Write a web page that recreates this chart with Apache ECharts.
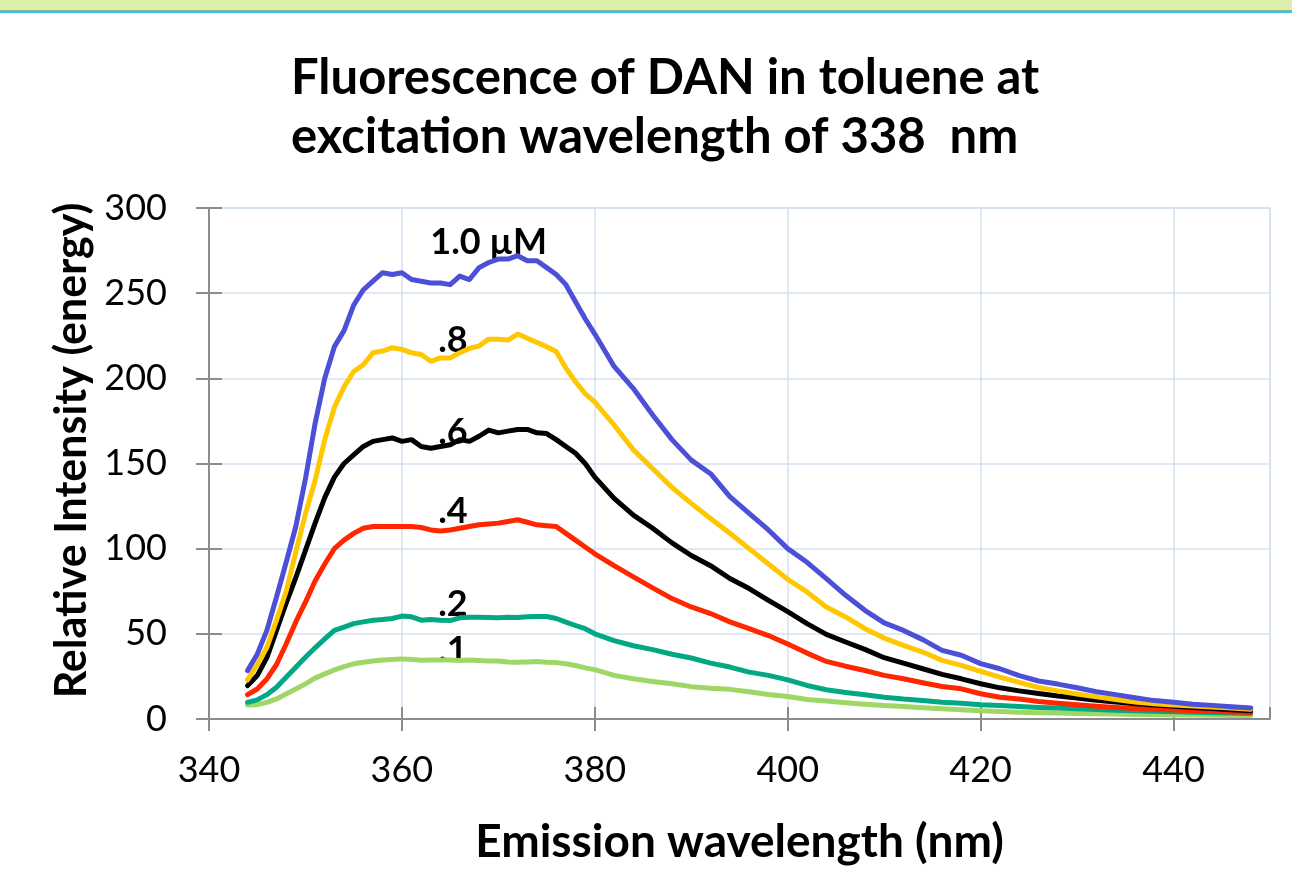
<!DOCTYPE html>
<html>
<head>
<meta charset="utf-8">
<script src="https://cdn.jsdelivr.net/npm/echarts@6/dist/echarts.min.js"></script>
<style>
html,body{margin:0;padding:0;background:#fff;}
#chart{width:1292px;height:873px;}
</style>
</head>
<body>
<div id="chart"></div>
<script>
const wavelengths = [344,345,346,347,348,349,350,351,352,353,354,355,356,357,358,359,360,361,362,363,364,365,366,367,368,369,370,371,372,373,374,375,376,377,378,379,380,
382,384,386,388,390,392,394,396,398,400,402,404,406,408,410,412,414,416,418,420,422,424,426,428,430,432,434,436,438,440,442,444,446,448];

const conc10 = [28.4,38,52,71.6,92,113,141,173.5,200,218.6,228,243,252,257,262,261,262,258,257,256,256,255,260,258,265,268,270,270,272,269,269,265,261,255,245,235,226,
207,194,178.5,164,152,144,130.5,120.7,111,100,92,82.4,72.6,63.8,56.4,52,46.6,40.3,37.4,32.5,29.5,25.5,22.3,20.5,18.3,16,14.3,12.5,10.8,9.8,8.7,8,7.2,6.5];

const conc08 = [23,32,42,58,75,98,120.5,140,164,183,195,204,208,215,216,218,217,215,214,210,212,212,215,217.6,219,223,223,222.5,226,223.5,221,218.6,215.7,206,198,191,186,
172.6,158,147,136,126.6,117.7,109,100,91,82,74.6,65.8,59.9,53,47.5,43.2,39.3,34.4,31.5,28,24.6,21.5,18.5,16.5,14.7,13,11.5,10,9,8.2,7.6,7,6.4,5.7];

const conc06 = [19.6,25.5,36,52,68,83,99,115,130,142,150,155,160,163,164,165,163,164,160,159,160,161,164,163,166,169.6,168,169,170,170,168,167.6,164,160,156,150,142,
129.5,119.7,112,103.4,96,90,82.5,76.6,69.7,63,56,49.7,45.2,40.9,36,32.8,29.5,26.2,23.6,20.7,18.3,16.5,15,13.5,12.3,11,10,9,8.2,7.5,6.8,6.1,5.5,4.8];

const conc04 = [14.3,17.6,23.5,32,44,57,68.6,81,91,100,105,109,112,113,113,113,113,113,112.4,111,110.4,111,112,113,114,114.5,115,116,117,115.5,114,113.5,113,109,105,101,97,
90,83.4,77,70.7,65.8,61.9,57,53,49,44,38.7,33.8,31,28.5,25.6,23.6,21.3,19.1,17.7,14.8,12.8,11.7,10.3,9.2,8.3,7.5,6.8,6.2,5.7,5.3,4.9,4.5,4.1,3.8];

const conc02 = [9.8,11.2,14.3,18.6,24.5,30.4,36.3,41.8,47,52,54,56,57,58,58.4,59,60.4,60,58,58.4,58,57.8,59.4,59.8,59.8,59.6,59.4,59.8,59.6,60,60.2,60.2,59,56.9,54.9,53,50,
46,43,40.7,38,35.8,32.8,30.5,27.5,25.6,23,19.7,17.2,15.6,14.2,12.8,11.7,10.9,9.9,9.3,8.3,7.9,7.3,6.8,6.4,6,5.6,5.2,4.9,4.6,4.3,4,3.7,3.5,3.2];

const conc01 = [8.2,8.4,9.8,11.8,14.7,17.6,20.6,24,26.5,28.8,30.8,32.4,33.3,34,34.7,35,35.3,35,34.5,34.7,34.7,34.7,34.3,34.7,34.3,34,34,33.5,33.3,33.5,33.7,33.3,33.1,32.4,31.4,30,29,
25.6,23.6,22,20.7,19,18,17.4,16,14.4,13.2,11.5,10.5,9.5,8.7,7.9,7.4,6.6,6,5.4,4.8,4.4,4,3.7,3.5,3.3,3.1,2.9,2.7,2.5,2.4,2.3,2.2,2.1,2];

const seriesNames = ['1.0 µM', '.8', '.6', '.4', '.2', '.1'];
const seriesColors = ['#4B50D6', '#FFC700', '#000000', '#FF2600', '#00A883', '#9ED766'];
const seriesValues = [conc10, conc08, conc06, conc04, conc02, conc01];
// annotation anchors in data units [wavelength nm, intensity]
const labelAnchors = [[369, 280], [365.3, 222], [365.3, 168.5], [365.3, 122], [365.3, 67], [365.3, 40]];

const xTicks = [340, 360, 380, 400, 420, 440];
const yTicks = [0, 50, 100, 150, 200, 250, 300];

const FONT = 'Lato, "Open Sans", sans-serif';
const chart = echarts.init(document.getElementById('chart'), null, {renderer: 'canvas'});

const axisGray = '#8c8c8c';
const gridBlue = '#d5e0f0';

const series = seriesValues.map((vals, i) => ({
  name: seriesNames[i],
  type: 'line',
  xAxisIndex: 0,
  yAxisIndex: 0,
  data: wavelengths.map((w, j) => [w, vals[j]]),
  showSymbol: false,
  symbol: 'none',
  smooth: false,
  lineStyle: {color: seriesColors[i], width: 5, join: 'round', cap: 'round'},
  itemStyle: {color: seriesColors[i]},
  z: 10 - i,
  markPoint: {
    symbol: 'circle',
    symbolSize: 1,
    itemStyle: {color: 'rgba(0,0,0,0)'},
    label: {
      show: true,
      position: 'inside',
      formatter: seriesNames[i],
      color: '#000',
      fontFamily: FONT,
      fontWeight: 'bold',
      fontSize: 36
    },
    data: [{coord: labelAnchors[i]}]
  }
}));

const option = {
  backgroundColor: '#ffffff',
  animation: false,
  title: {
    text: 'Fluorescence of DAN in toluene at\nexcitation wavelength of 338  nm',
    left: 286,
    top: 44,
    textAlign: 'left',
    textStyle: {fontFamily: FONT, fontWeight: 'bold', fontSize: 49, lineHeight: 59, color: '#000', align: 'center', width: 747}
  },
  graphic: [
    {type: 'rect', left: 0, top: 0, shape: {width: 1292, height: 10}, style: {fill: '#DCEFA8'}, silent: true},
    {type: 'rect', left: 0, top: 10, shape: {width: 1292, height: 1}, style: {fill: '#7fb9a0'}, silent: true},
    {type: 'rect', left: 0, top: 11, shape: {width: 1292, height: 2}, style: {fill: '#35C2E6'}, silent: true}
  ],
  grid: {
    left: 209, right: 22, top: 208, bottom: 154,
    show: true, borderColor: gridBlue, borderWidth: 1.5, backgroundColor: 'transparent'
  },
  xAxis: [
    {
      type: 'value', min: 340, max: 450, interval: 20, position: 'bottom',
      name: 'Emission wavelength (nm)', nameLocation: 'middle', nameGap: 100,
      nameTextStyle: {fontFamily: FONT, fontWeight: 'bold', fontSize: 46, color: '#000'},
      axisLine: {show: true, lineStyle: {color: axisGray, width: 2}},
      axisTick: {show: true, length: 12, lineStyle: {color: axisGray, width: 2}},
      axisLabel: {
        fontFamily: FONT, fontSize: 36, color: '#000', margin: 33, showMaxLabel: false,
        formatter: v => (xTicks.indexOf(v) >= 0 ? String(v) : '')
      },
      splitLine: {show: true, lineStyle: {color: gridBlue, width: 1.5}}
    },
    {
      type: 'value', min: 340, max: 450, interval: 20, position: 'bottom', offset: 0,
      axisLine: {show: false},
      axisTick: {show: true, inside: true, length: 12, lineStyle: {color: axisGray, width: 2}},
      axisLabel: {show: false},
      splitLine: {show: false}
    }
  ],
  yAxis: [
    {
      type: 'value', min: 0, max: 300, interval: 50, position: 'left',
      name: 'Relative Intensity (energy)', nameLocation: 'middle', nameGap: 101, nameRotate: 90,
      nameTextStyle: {fontFamily: FONT, fontWeight: 'bold', fontSize: 43, color: '#000', padding: [0, 0, 0, 26]},
      axisLine: {show: true, lineStyle: {color: axisGray, width: 2}},
      axisTick: {show: true, length: 13, lineStyle: {color: axisGray, width: 2}},
      axisLabel: {
        fontFamily: FONT, fontSize: 36, color: '#000', margin: 42,
        formatter: v => (yTicks.indexOf(v) >= 0 ? String(v) : '')
      },
      splitLine: {show: true, lineStyle: {color: gridBlue, width: 1.5}}
    },
    {
      type: 'value', min: 0, max: 300, interval: 50, position: 'left', offset: 0,
      axisLine: {show: false},
      axisTick: {show: true, inside: true, length: 13, lineStyle: {color: axisGray, width: 2}},
      axisLabel: {show: false},
      splitLine: {show: false}
    }
  ],
  series: series
};

chart.setOption(option);
</script>
</body>
</html>
